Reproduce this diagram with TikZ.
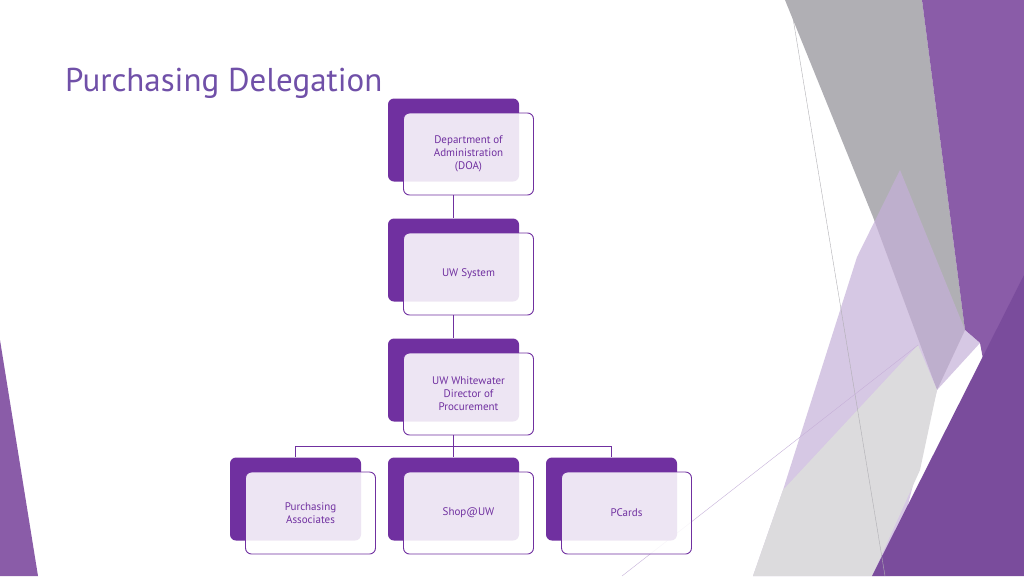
\documentclass[tikz,border=0pt]{standalone}
\usepackage{fontspec}
\setmainfont{PT Sans}
\usetikzlibrary{positioning}
\definecolor{uwpurple}{HTML}{7030A0}
\definecolor{titlepurple}{HTML}{7050A8}
\definecolor{decopurple}{HTML}{8A5CA8}
\definecolor{darkpurple}{HTML}{7A4C9C}
\definecolor{lightpurple}{HTML}{C5B0D8}
\definecolor{decogrey}{HTML}{B0AFB4}
\tikzset{
  back/.style={rectangle, rounded corners=6pt, fill=uwpurple, minimum width=131pt, minimum height=83pt},
  front/.style={rectangle, rounded corners=6pt, draw=uwpurple, line width=0.9pt, fill=white, fill opacity=0.88, text opacity=1,
    minimum width=130pt, minimum height=82pt, align=center, text=uwpurple, font=\fontsize{11pt}{13pt}\selectfont},
  link/.style={draw=uwpurple, line width=0.9pt},
}
\begin{document}
\begin{tikzpicture}[x=1pt,y=-1pt]
  \useasboundingbox (0,0) rectangle (1024,576);
  % decoration
  \fill[decogrey] (785,0) -- (922,0) -- (965,330) -- (937,390) -- (873,217) -- cycle;
  \fill[decopurple] (922,0) -- (1024,0) -- (1024,576) -- (980,343) -- (965,330) -- cycle;
  \fill[lightpurple, opacity=0.7] (857,257) -- (900,170) -- (965,330) -- (980,343) -- (937,390) -- (890,576) -- (753,576) -- (783,490) -- cycle;
  \fill[decogrey!45] (783,490) -- (918,345) -- (937,390) -- (920,470) -- (872,576) -- (753,576) -- cycle;
  \fill[darkpurple] (1024,275) -- (1024,576) -- (872,576) -- cycle;
  \fill[decopurple] (0,340) -- (38,576) -- (0,576) -- cycle;
  \draw[decogrey, line width=0.4pt] (790,0) -- (885,576);
  \draw[lightpurple, line width=0.4pt] (622,576) -- (918,345);
  % title
  \node[anchor=base west, text=titlepurple, font=\fontsize{33pt}{36pt}\selectfont, inner sep=0pt] (title) at (65,91) {Purchasing Delegation};
  % back boxes
  \node[back] (doaB) at (453.5,140) {};
  \node[back] (uwsB) at (453.5,260) {};
  \node[back] (uwwB) at (453.5,380) {};
  \node[back] (paB) at (295.5,499) {};
  \node[back] (shopB) at (453.5,499) {};
  \node[back] (pcB) at (611.5,499) {};
  % front boxes
  \node[front] (doa) at ([shift={(15,14)}]doaB.center) {Department of\\Administration\\(DOA)};
  \node[front] (uws) at ([shift={(15,14)}]uwsB.center) {UW System};
  \node[front] (uww) at ([shift={(15,14)}]uwwB.center) {UW Whitewater\\Director of\\Procurement};
  \node[front] (pa) at ([shift={(15,14)}]paB.center) {Purchasing\\Associates};
  \node[front] (shop) at ([shift={(15,14)}]shopB.center) {Shop@UW};
  \node[front] (pc) at ([shift={(15,14)}]pcB.center) {PCards};
  % connectors
  \draw[link] (doa.south -| doaB.south) -- (uwsB.north);
  \draw[link] (uws.south -| uwsB.south) -- (uwwB.north);
  \draw[link] (uww.south -| uwwB.south) -- ++(0,11) coordinate (fork);
  \draw[link] (fork) -| (paB.north);
  \draw[link] (fork) -| (pcB.north);
  \draw[link] (fork) -- (shopB.north);
\end{tikzpicture}
\end{document}
